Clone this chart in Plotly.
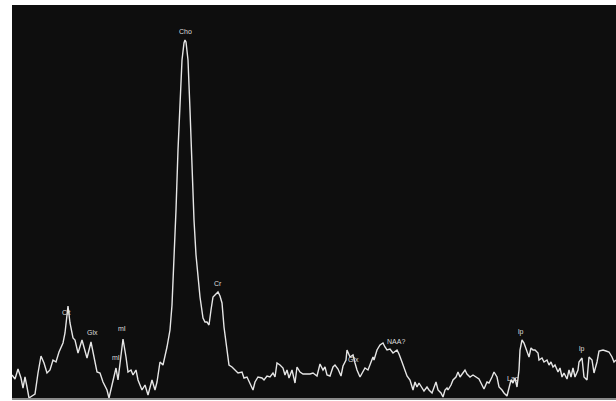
import plotly.graph_objects as go

# spectrum sample positions (arbitrary frequency units) and signal amplitude (a.u.)
position = [12,15,18,21,23,25,27,29,32,35,38,41,44,47,50,53,56,59,63,65,67,68,70,73,75,78,82,85,87,91,94,97,100,103,107,109,112,114,116,118,121,123,126,128,131,133,136,138,142,145,148,152,155,157,160,163,167,170,172,174,176,178,180,182,184,185,186,188,190,192,194,196,198,200,203,205,207,209,211,213,215,218,220,222,224,227,229,232,235,238,242,244,247,250,253,255,258,262,264,267,270,273,275,277,280,283,285,287,289,292,295,297,300,303,307,310,313,317,320,323,325,327,330,333,335,338,341,343,346,347,350,353,355,357,360,363,365,368,371,373,374,377,380,383,385,387,390,393,397,399,402,405,407,410,413,415,417,419,422,424,427,429,432,434,436,438,441,443,445,447,448,451,453,456,458,460,463,465,467,470,473,476,479,482,484,487,489,492,494,497,499,502,504,507,509,511,513,515,517,519,520,522,524,527,529,531,533,535,538,539,542,544,547,549,551,553,555,558,560,562,564,567,569,571,573,575,578,579,582,584,587,589,592,594,597,599,603,606,609,612,614,616]
amplitude = [24,20,30,21,11,22,12,1,3,5,26,43,36,26,29,39,37,47,56,66,84,93,76,61,59,46,59,47,41,57,42,27,26,17,9,1,14,24,31,19,42,60,42,27,29,24,29,19,9,14,4,19,9,17,37,34,52,69,94,139,189,249,304,339,356,359,357,339,289,229,179,144,119,102,81,77,77,74,89,102,104,107,103,96,72,46,34,32,29,26,27,21,22,16,9,17,22,21,19,23,22,26,22,36,34,31,24,29,21,29,16,32,27,25,25,25,26,23,35,29,32,24,23,32,34,30,23,33,39,49,42,44,36,29,22,27,31,29,37,42,39,49,54,56,52,49,50,46,49,45,37,29,23,19,9,17,12,16,11,8,12,9,6,12,17,9,6,2,9,11,9,14,19,22,27,22,27,29,25,22,24,22,20,14,10,17,16,22,27,22,12,9,6,3,12,19,16,21,12,29,49,59,56,47,42,51,49,49,46,39,41,37,39,34,37,32,34,27,31,22,26,20,29,22,31,22,29,37,41,22,19,42,39,26,37,48,49,48,47,42,37,39]

# peak labels
label_text = ["Cit", "Glx", "mI", "mI", "Cho", "Cr", "Glx", "NAA?", "Lac", "lp", "lp"]
label_pos = [66, 92, 116, 122, 185, 218, 353, 396, 513, 521, 582]
label_amp = [87, 67, 42, 71, 368, 116, 40, 58, 21, 67, 50]

fig = go.Figure()
fig.add_trace(go.Scatter(
    x=position, y=amplitude, mode="lines",
    line=dict(color="#e6e6e6", width=1.4),
    hoverinfo="skip", showlegend=False,
))

for t, xp, ya in zip(label_text, label_pos, label_amp):
    fig.add_annotation(x=xp, y=ya, text=t, showarrow=False,
                       font=dict(family="Liberation Sans, Arial", size=7, color="#dddddd"),
                       xanchor="center", yanchor="middle")

fig.update_layout(
    width=616, height=401,
    margin=dict(l=12, r=0, t=5, b=2),
    paper_bgcolor="#ffffff",
    plot_bgcolor="#0e0e0e",
    xaxis=dict(range=[12, 616], visible=False, showgrid=False, zeroline=False),
    yaxis=dict(range=[0, 394], showgrid=False, zeroline=False, showticklabels=False,
               ticks=""),
)
fig.add_shape(type="line", xref="paper", yref="paper", x0=0, x1=1, y0=0, y1=0,
              line=dict(color="#8a8a8a", width=2))

fig.write_html("out.html", config={"displayModeBar": False},
               post_script="document.body.style.margin='0';")
